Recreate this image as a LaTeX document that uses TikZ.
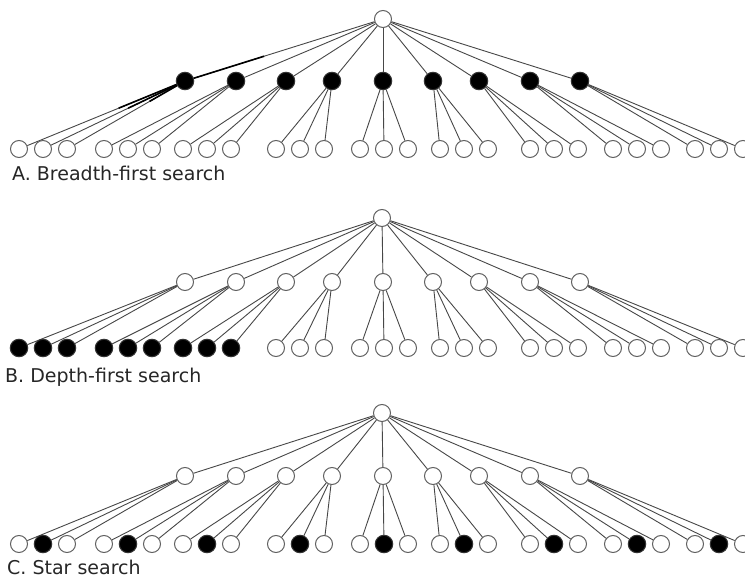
\documentclass[tikz,border=0pt]{standalone}
\usepackage{fontspec}
\setsansfont{DejaVu Sans}
\usetikzlibrary{calc}

% x positions of the nine second-level vertices
\def\midxs{185,236,286,332,383,433,479,530,580}
% x position of the first leaf in each group of three
\def\groupxs{19,104,183,276,360,440,530,613,695}

% #1 name prefix, #2 root x, #3 root y, #4 middle row y, #5 leaf row y,
% #6 which vertices are marked: 1 = middle row, 2 = first three subtrees, 3 = middle leaf of each group
\newcommand\searchtree[6]{%
  \node[vtx] (#1r) at (#2,#3) {};
  \foreach \mx [count=\i] in \midxs {%
    \ifnum#6=1 \def\vst{hit}\else\def\vst{vtx}\fi
    \node[\vst] (#1m\i) at (\mx,#4) {};
    \draw[edge] (#1r) -- (#1m\i);
  }
  \foreach \gx [count=\g] in \groupxs {%
    \foreach \k in {0,1,2} {%
      \def\vst{vtx}%
      \ifnum#6=2 \ifnum\g<4 \def\vst{hit}\fi\fi
      \ifnum#6=3 \ifnum\k=1 \def\vst{hit}\fi\fi
      \node[\vst] (#1l\g-\k) at ({\gx+24*\k},#5) {};
      \draw[edge] (#1m\g) -- (#1l\g-\k);
    }
  }
}

\begin{document}
\begin{tikzpicture}[x=1pt,y=-1pt,
  vtx/.style={circle,draw=black!62,line width=1pt,minimum size=17pt,inner sep=0pt,fill=white},
  hit/.style={vtx,fill=black,draw=black!80,minimum size=17.5pt},
  edge/.style={draw=black!72,line width=0.9pt},
  heavy/.style={draw=black,line width=1.6pt},
  caption/.style={anchor=base west,inner sep=0pt,text depth=0pt,font=\sffamily\fontsize{19}{23}\selectfont,text=black!85}]
\useasboundingbox (0,0) rectangle (745,578);
\clip (0,0) rectangle (745,578);

% A: breadth-first
\searchtree{A}{383}{19}{81}{149}{1}
\draw[heavy] (Am1) -- ($(Am1)!0.4!(Ar)$);
\draw[heavy] (Am1) -- ($(Am1)!0.4!(Al1-0)$);
\draw[heavy] (Am1) -- ($(Am1)!0.4!(Al1-1)$);
\draw[heavy] (Am1) -- ($(Am1)!0.3!(Al1-2)$);
\node[caption] (capA) at (12,180) {A. Breadth-first search};

% B: depth-first
\searchtree{B}{382}{218}{282}{348}{2}
\node[caption] (capB) at (5,382) {B. Depth-first search};

% C: star
\searchtree{C}{382}{413}{476}{544}{3}
\node[caption] (capC) at (7,574) {C. Star search};
\end{tikzpicture}
\end{document}
